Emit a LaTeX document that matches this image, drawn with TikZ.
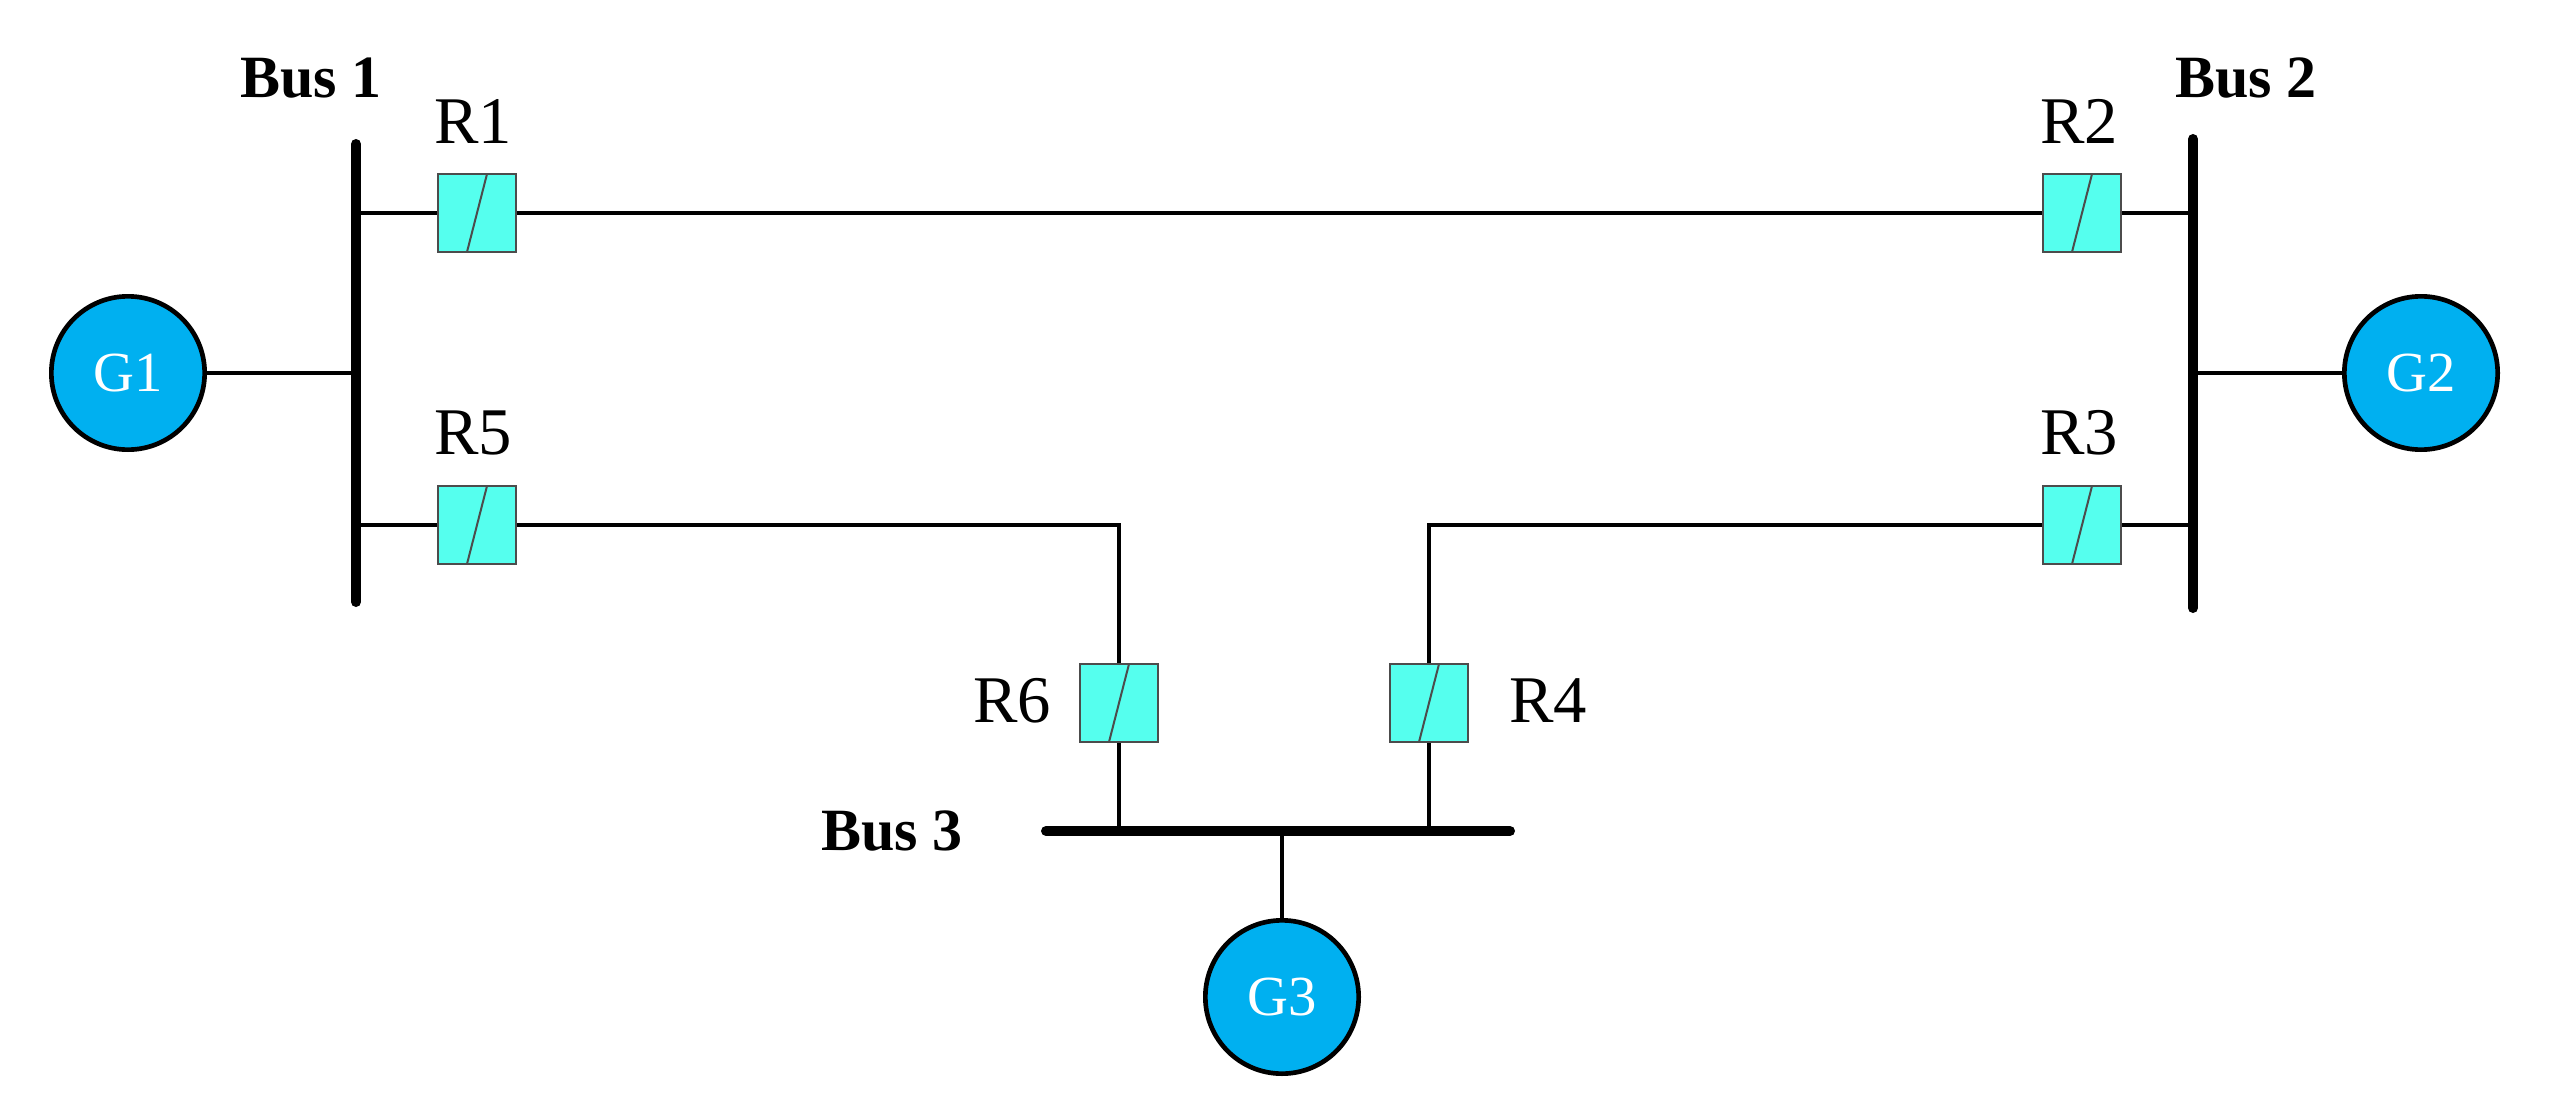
\documentclass[tikz,border=0pt]{standalone}
\usepackage{fontspec}
\setmainfont{Liberation Serif}
\begin{document}
\begin{tikzpicture}[x=0.3pt,y=-0.3pt,
  relay/.style={draw=black!70,line width=0.6pt,minimum size=23.4pt,inner sep=0pt,
    path picture={\draw[line width=0.6pt] ([xshift=-3pt]path picture bounding box.south) -- ([xshift=3pt]path picture bounding box.north);}},
  gen/.style={circle,draw=black,line width=1.4pt,minimum size=46pt,inner sep=0pt,text=white,font=\fontsize{17}{19}\selectfont},
  lbl/.style={font=\fontsize{20}{22}\selectfont},
  blbl/.style={font=\bfseries\fontsize{18}{20}\selectfont},
  line/.style={line width=1.3pt},
  bus/.style={line width=3pt,line cap=round}]
\useasboundingbox (0,0) rectangle (2550,1117);
\definecolor{gencol}{HTML}{00B0F0}
\definecolor{relcol}{HTML}{55FFEE}
\tikzset{gen/.append style={fill=gencol},relay/.append style={fill=relcol}}
% buses
\coordinate (b1t) at (356,144); \coordinate (b1b) at (356,602);
\coordinate (b2t) at (2193,139); \coordinate (b2b) at (2193,608);
\coordinate (b3l) at (1046,831); \coordinate (b3r) at (1510,831);
\draw[bus] (b1t) -- (b1b);
\draw[bus] (b2t) -- (b2b);
\draw[bus] (b3l) -- (b3r);
\node[blbl] (bus1) at (311,78) {Bus 1};
\node[blbl] (bus2) at (2246,78) {Bus 2};
\node[blbl] (bus3) at (892,831) {Bus 3};
% generators
\node[gen] (g1) at (128,373) {G1};
\node[gen] (g2) at (2421,373) {G2};
\node[gen] (g3) at (1282,997) {G3};
\coordinate (g1b) at (356,373); \coordinate (g2b) at (2193,373); \coordinate (g3b) at (1282,831);
\draw[line] (g1) -- (g1b);
\draw[line] (g2) -- (g2b);
\draw[line] (g3) -- (g3b);
% relays
\node[relay] (r1) at (477,213) {};
\node[relay] (r2) at (2082,213) {};
\node[relay] (r5) at (477,525) {};
\node[relay] (r3) at (2082,525) {};
\node[relay] (r6) at (1119,703) {};
\node[relay] (r4) at (1429,703) {};
\node[lbl] (l1) at (473,121) {R1};
\node[lbl] (l2) at (2079,121) {R2};
\node[lbl] (l5) at (473,433) {R5};
\node[lbl] (l3) at (2079,433) {R3};
\node[lbl] (l6) at (1012,701) {R6};
\node[lbl] (l4) at (1548,701) {R4};
\coordinate (r1b) at (356,213); \coordinate (r2b) at (2193,213);
\coordinate (r5b) at (356,525); \coordinate (r3b) at (2193,525);
\coordinate (c5) at (1119,525); \coordinate (c3) at (1429,525);
\coordinate (r6b) at (1119,831); \coordinate (r4b) at (1429,831);
\draw[line] (r1b) -- (r1) -- (r2) -- (r2b);
\draw[line] (r5b) -- (r5) -- (c5) -- (r6) -- (r6b);
\draw[line] (r3b) -- (r3) -- (c3) -- (r4) -- (r4b);
\end{tikzpicture}
\end{document}
